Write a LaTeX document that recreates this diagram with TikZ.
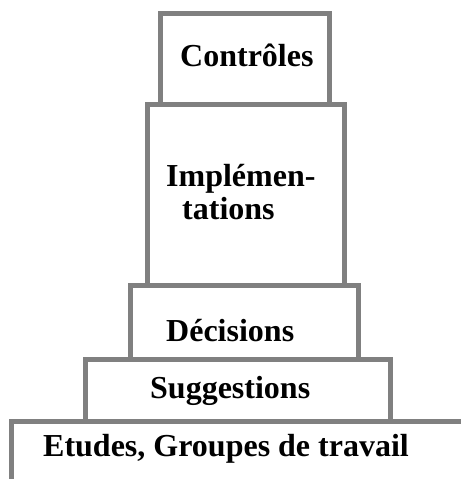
\documentclass[tikz,border=0pt]{standalone}
\usepackage{fontspec}
\setmainfont{Liberation Serif}
\begin{document}
\begin{tikzpicture}[x=1pt,y=-1pt,
  tier/.style={draw=black!50, line width=5pt, fill=white},
  label/.style={font=\fontsize{32}{36}\selectfont\bfseries, inner sep=0pt, anchor=base west}]
\useasboundingbox (0,0) rectangle (461,479);
% base level, open towards the bottom and right
\draw[tier, fill=none] (11,479) -- (11,421) -- (461,421);
% stacked levels, widest at the bottom
\draw[tier] (85.5,421) rectangle (390,359);
\draw[tier] (130.5,359) rectangle (358,285.5);
\draw[tier] (147,285.5) rectangle (344.5,104);
\draw[tier] (160.5,104) rectangle (329,13.5);
% texts
\node[label] (c) at (180,66) {Contrôles};
\node[label] (i1) at (166,186) {Implémen-};
\node[label] (i2) at (182,219) {tations};
\node[label] (d) at (166,341) {Décisions};
\node[label] (s) at (150,398) {Suggestions};
\node[label] (e) at (43,456) {Etudes, Groupes de travail};
\end{tikzpicture}
\end{document}
